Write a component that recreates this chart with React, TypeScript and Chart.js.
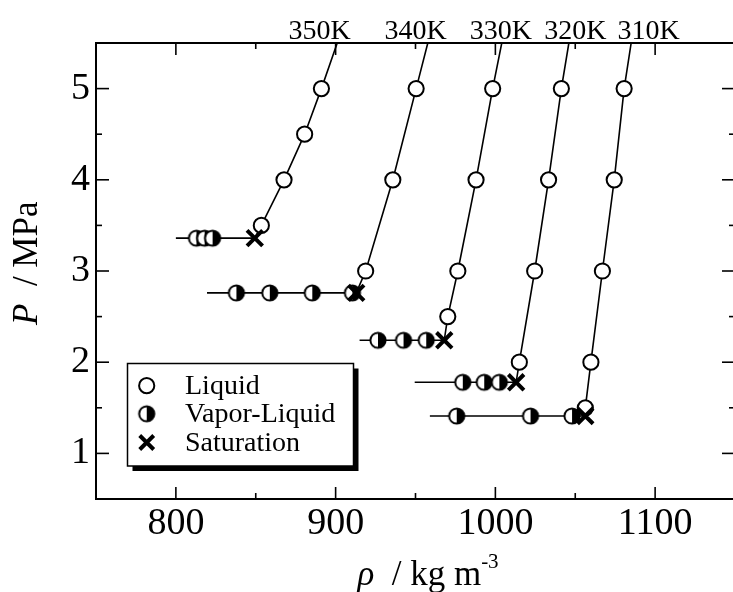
import React, { useEffect, useRef } from "react";
import { Chart, registerables } from "chart.js";

Chart.register(...registerables);

// ---- data (ρ in kg m^-3, P in MPa) ----
const temperatures = ["350K", "340K", "330K", "320K", "310K"];
const labelRho = [890, 950, 1003.5, 1050, 1096];

const lineStartRho = [800, 819.5, 915, 949.5, 959];
const lineTopRho = [901, 957.7, 1004, 1046, 1085];
const lineTopP = [5.5, 5.5, 5.5, 5.5, 5.5];

const satRho = [849.4, 912.9, 968, 1013, 1056.3];
const satP = [3.36, 2.76, 2.24, 1.78, 1.41];

const vlRho350 = [812.9, 818, 823];
const vlRho340 = [837.9, 858.8, 885.4, 910.5];
const vlRho330 = [926.5, 942.5, 956.7];
const vlRho320 = [979.6, 993, 1002.5];
const vlRho310 = [975.8, 1022, 1048];

const liqRho350 = [853.5, 867.7, 880.6, 891.1];
const liqP350 = [3.5, 4.0, 4.5, 5.0];
const liqRho340 = [918.8, 935.8, 950.4];
const liqP340 = [3.0, 4.0, 5.0];
const liqRho330 = [970.2, 976.5, 987.9, 998.3];
const liqP330 = [2.5, 3.0, 4.0, 5.0];
const liqRho320 = [1015, 1024.6, 1033.3, 1041.3];
const liqP320 = [2.0, 3.0, 4.0, 5.0];
const liqRho310 = [1056.3, 1059.8, 1067, 1074.4, 1080.6];
const liqP310 = [1.5, 2.0, 3.0, 4.0, 5.0];

const xMajorTicks = [800, 900, 1000, 1100];
const xMinorTicks = [850, 950, 1050];
const yMajorTicks = [1, 2, 3, 4, 5];
const yMinorTicks = [1.5, 2.5, 3.5, 4.5];

const legendLabels = ["Liquid", "Vapor-Liquid", "Saturation"];

const vlRhoAll = [vlRho350, vlRho340, vlRho330, vlRho320, vlRho310];
const liqRhoAll = [liqRho350, liqRho340, liqRho330, liqRho320, liqRho310];
const liqPAll = [liqP350, liqP340, liqP330, liqP320, liqP310];

const FONT = "'Liberation Serif', 'Times New Roman', Times, serif";

function makeHalfCircle(r: number, lw: number): HTMLCanvasElement {
  const size = Math.ceil(2 * r + lw + 4);
  const c = document.createElement("canvas");
  c.width = size;
  c.height = size;
  const g = c.getContext("2d")!;
  const cx = size / 2;
  const cy = size / 2;
  g.beginPath();
  g.arc(cx, cy, r, 0, Math.PI * 2);
  g.fillStyle = "#fff";
  g.fill();
  g.beginPath();
  g.moveTo(cx, cy - r);
  g.arc(cx, cy, r, -Math.PI / 2, Math.PI / 2);
  g.closePath();
  g.fillStyle = "#000";
  g.fill();
  g.beginPath();
  g.arc(cx, cy, r, 0, Math.PI * 2);
  g.lineWidth = lw;
  g.strokeStyle = "#000";
  g.stroke();
  return c;
}

export default function App() {
  const ref = useRef<HTMLCanvasElement | null>(null);

  useEffect(() => {
    const canvas = ref.current;
    if (!canvas) return;
    const R = 7.6;
    const half = makeHalfCircle(R, 2);

    const lineSets = temperatures.map((t, i) => {
      const pts: { x: number; y: number }[] = [];
      pts.push({ x: lineStartRho[i], y: satP[i] });
      vlRhoAll[i].forEach((r) => pts.push({ x: r, y: satP[i] }));
      pts.push({ x: satRho[i], y: satP[i] });
      liqRhoAll[i].forEach((r, j) => pts.push({ x: r, y: liqPAll[i][j] }));
      pts.push({ x: lineTopRho[i], y: lineTopP[i] });
      return {
        label: t,
        data: pts,
        showLine: true,
        borderColor: "#000",
        borderWidth: 1.6,
        pointRadius: 0,
        order: 4,
      };
    });

    const liqPts: { x: number; y: number }[] = [];
    const vlPts: { x: number; y: number }[] = [];
    const satPts: { x: number; y: number }[] = [];
    temperatures.forEach((_, i) => {
      liqRhoAll[i].forEach((r, j) => liqPts.push({ x: r, y: liqPAll[i][j] }));
      vlRhoAll[i].forEach((r) => vlPts.push({ x: r, y: satP[i] }));
      satPts.push({ x: satRho[i], y: satP[i] });
    });

    const frame = {
      id: "frame",
      afterDatasetsDraw(chart: any) {
        const { ctx, chartArea: a, scales } = chart;
        const xs = scales.x;
        const ys = scales.y;
        ctx.save();
        ctx.strokeStyle = "#000";
        ctx.lineWidth = 1.6;
        const seg = (x1: number, y1: number, x2: number, y2: number) => {
          ctx.beginPath();
          ctx.moveTo(x1, y1);
          ctx.lineTo(x2, y2);
          ctx.stroke();
        };
        xMajorTicks.forEach((v) => {
          const x = xs.getPixelForValue(v);
          seg(x, a.bottom, x, a.bottom - 12);
          seg(x, a.top, x, a.top + 12);
        });
        xMinorTicks.forEach((v) => {
          const x = xs.getPixelForValue(v);
          seg(x, a.bottom, x, a.bottom - 6);
          seg(x, a.top, x, a.top + 6);
        });
        yMajorTicks.forEach((v) => {
          const y = ys.getPixelForValue(v);
          seg(a.left, y, a.left + 13, y);
          seg(a.right, y, a.right - 13, y);
        });
        yMinorTicks.forEach((v) => {
          const y = ys.getPixelForValue(v);
          seg(a.left, y, a.left + 6, y);
          seg(a.right, y, a.right - 6, y);
        });
        ctx.lineWidth = 2;
        ctx.strokeRect(a.left, a.top, a.right - a.left, a.bottom - a.top);
        ctx.restore();
      },
      afterDraw(chart: any) {
        const { ctx, scales } = chart;
        const xs = scales.x;
        ctx.save();
        ctx.fillStyle = "#000";
        // temperature labels above plot
        ctx.font = `28px ${FONT}`;
        ctx.textAlign = "center";
        ctx.textBaseline = "alphabetic";
        temperatures.forEach((t, i) => {
          ctx.fillText(t, xs.getPixelForValue(labelRho[i]), 39);
        });

        // x title: ρ / kg m^-3
        ctx.textAlign = "left";
        const base = 585;
        const f1 = `italic 35px ${FONT}`;
        const f2 = `35px ${FONT}`;
        const f3 = `21px ${FONT}`;
        ctx.font = f1;
        const wRho = ctx.measureText("ρ").width;
        ctx.font = f2;
        const mid = "  / kg m";
        const wMid = ctx.measureText(mid).width;
        ctx.font = f3;
        const wSup = ctx.measureText("-3").width;
        const total = wRho + wMid + wSup;
        let x0 = 428 - total / 2;
        ctx.font = f1;
        ctx.fillText("ρ", x0, base);
        x0 += wRho;
        ctx.font = f2;
        ctx.fillText(mid, x0, base);
        x0 += wMid;
        ctx.font = f3;
        ctx.fillText("-3", x0, base - 17);

        // y title: P / MPa (rotated)
        ctx.save();
        ctx.translate(37, 325);
        ctx.rotate(-Math.PI / 2);
        ctx.font = `italic 35px ${FONT}`;
        ctx.fillText("P", 0, 0);
        const wp = ctx.measureText("P").width;
        ctx.font = `35px ${FONT}`;
        ctx.fillText("  / MPa", wp, 0);
        ctx.restore();

        // legend box with shadow
        const bx = 127.5, by = 363.5, bw = 226, bh = 102.5;
        ctx.fillStyle = "#000";
        ctx.fillRect(bx + 5, by + 5, bw, bh);
        ctx.fillStyle = "#fff";
        ctx.fillRect(bx, by, bw, bh);
        ctx.strokeStyle = "#000";
        ctx.lineWidth = 1.5;
        ctx.strokeRect(bx, by, bw, bh);

        const mx = 146.7;
        const rows = [385.7, 413.8, 442.5];
        // liquid marker
        ctx.beginPath();
        ctx.arc(mx, rows[0], R, 0, Math.PI * 2);
        ctx.fillStyle = "#fff";
        ctx.fill();
        ctx.lineWidth = 2;
        ctx.stroke();
        // vapor-liquid marker
        ctx.drawImage(half, mx - half.width / 2, rows[1] - half.height / 2);
        // saturation marker
        ctx.lineWidth = 4;
        const s = 7;
        ctx.beginPath();
        ctx.moveTo(mx - s, rows[2] - s);
        ctx.lineTo(mx + s, rows[2] + s);
        ctx.moveTo(mx - s, rows[2] + s);
        ctx.lineTo(mx + s, rows[2] - s);
        ctx.stroke();

        ctx.fillStyle = "#000";
        ctx.font = `28px ${FONT}`;
        ctx.textBaseline = "middle";
        legendLabels.forEach((l, i) => {
          ctx.fillText(l, 185, rows[i] + 1);
        });
        ctx.restore();
      },
    };

    const chart = new Chart(canvas, {
      type: "scatter",
      data: {
        datasets: [
          {
            label: "Saturation",
            data: satPts,
            pointStyle: "crossRot",
            pointRadius: 11,
            borderWidth: 4,
            borderColor: "#000",
            backgroundColor: "#000",
            order: 0,
          },
          {
            label: "Vapor-Liquid",
            data: vlPts,
            pointStyle: half as any,
            pointRadius: R,
            order: 1,
          },
          {
            label: "Liquid",
            data: liqPts,
            pointStyle: "circle",
            pointRadius: R,
            borderWidth: 2,
            borderColor: "#000",
            backgroundColor: "#fff",
            order: 2,
          },
          ...lineSets,
        ] as any,
      },
      options: {
        animation: false,
        responsive: false,
        devicePixelRatio: 1,
        events: [],
        layout: {
          autoPadding: false,
          padding: { top: 43, right: 5, left: 0, bottom: 0 },
        },
        plugins: { legend: { display: false }, tooltip: { enabled: false } },
        scales: {
          x: {
            type: "linear",
            min: 750,
            max: 1150,
            grid: { display: false, drawTicks: false },
            border: { display: false },
            afterBuildTicks: (sc: any) => {
              sc.ticks = xMajorTicks.map((v) => ({ value: v }));
            },
            afterFit: (sc: any) => {
              sc.height = 93;
              sc.paddingLeft = 0;
              sc.paddingRight = 0;
            },
            ticks: {
              color: "#000",
              padding: 2,
              maxRotation: 0,
              font: { family: FONT, size: 38 },
              callback: (v: any) => String(v),
            },
          },
          y: {
            type: "linear",
            min: 0.5,
            max: 5.5,
            grid: { display: false, drawTicks: false },
            border: { display: false },
            afterBuildTicks: (sc: any) => {
              sc.ticks = yMajorTicks.map((v) => ({ value: v }));
            },
            afterFit: (sc: any) => {
              sc.width = 96;
              sc.paddingTop = 0;
              sc.paddingBottom = 0;
            },
            ticks: {
              color: "#000",
              padding: 6,
              font: { family: FONT, size: 38 },
              callback: (v: any) => String(v),
            },
          },
        },
      },
      plugins: [frame],
    } as any);

    return () => chart.destroy();
  }, []);

  return (
    <div
      style={{
        position: "fixed",
        left: 0,
        top: 0,
        width: 733,
        height: 592,
        overflow: "hidden",
        background: "#fff",
      }}
    >
      <canvas
        ref={ref}
        width={740}
        height={592}
        style={{ display: "block", width: 740, height: 592 }}
      />
    </div>
  );
}
